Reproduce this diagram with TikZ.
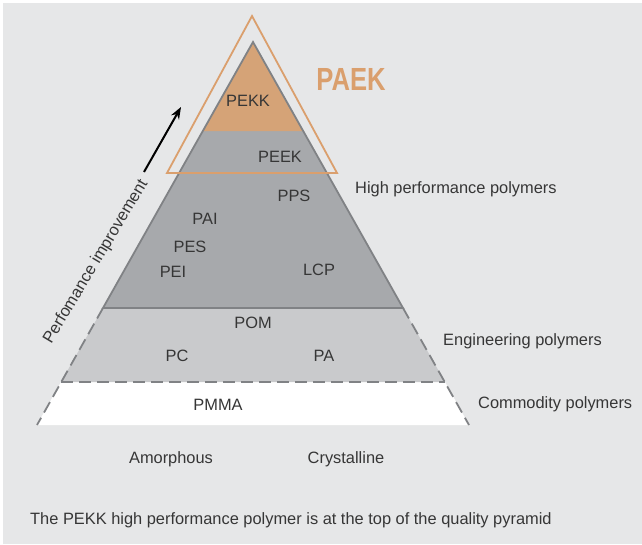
\documentclass[tikz,border=0pt]{standalone}
\usepackage{fontspec}
\setmainfont{Liberation Sans}
\usepackage{tikz}
\usetikzlibrary{arrows.meta}
\definecolor{bggray}{HTML}{E6E7E8}
\definecolor{topgray}{HTML}{A7A9AC}
\definecolor{midgray}{HTML}{C9CACC}
\definecolor{edgegray}{HTML}{808285}
\definecolor{peach}{HTML}{D5A377}
\definecolor{paekline}{HTML}{DA9F6D}
\definecolor{txtgray}{HTML}{363636}
\tikzset{
  lbl/.style={text=txtgray,font=\fontsize{16.4}{19}\selectfont,inner sep=0pt},
  side/.style={lbl,anchor=west},
  edge/.style={draw=edgegray,line width=1.8pt},
  dashedge/.style={edge,dash pattern=on 12pt off 6pt}
}
\begin{document}
\begin{tikzpicture}[x=1pt,y=-1pt]
    \useasboundingbox (0,0) rectangle (642,544);
    \fill[bggray] (3,3) rectangle (642,544);
    \coordinate (apex) at (253,42);
    \coordinate (pl) at (203,131);   \coordinate (pr) at (303,131);
    \coordinate (hl) at (103,308);   \coordinate (hr) at (403,308);
    \coordinate (el) at (61,382);    \coordinate (er) at (445,382);
    \coordinate (cl) at (37,425);    \coordinate (cr) at (469,425);
    \fill[white]   (el) -- (er) -- (cr) -- (cl) -- cycle;
    \fill[midgray] (hl) -- (hr) -- (er) -- (el) -- cycle;
    \fill[topgray] (apex) -- (hr) -- (hl) -- cycle;
    \fill[peach]   (apex) -- (pr) -- (pl) -- cycle;
    \draw[edge]     (hl) -- (apex) -- (hr) -- cycle;
    \draw[dashedge] (hl) -- (cl);
    \draw[dashedge] (hr) -- (cr);
    \draw[dashedge] (el) -- (er);
    \draw[paekline,line width=1.8pt] (252,16) -- (337,173) -- (167,173) -- cycle;
    \node[text=paekline,font=\bfseries\fontsize{32}{32}\selectfont,inner sep=0pt] (paek) at (351,79) {\scalebox{0.8}[1]{PAEK}};
    \node[lbl] (pekk) at (248,101) {PEKK};
    \node[lbl] (peek) at (280,157) {PEEK};
    \node[lbl] (pps)  at (294,196) {PPS};
    \node[lbl] (pai)  at (205,219) {PAI};
    \node[lbl] (pes)  at (190,247) {PES};
    \node[lbl] (pei)  at (173,272) {PEI};
    \node[lbl] (lcp)  at (319,270) {LCP};
    \node[lbl] (pom)  at (253,323) {POM};
    \node[lbl] (pc)   at (177,356) {PC};
    \node[lbl] (pa)   at (324,356) {PA};
    \node[lbl] (pmma) at (218,405) {PMMA};
    \node[lbl] (amorph) at (171,459) {Amorphous};
    \node[lbl] (cryst)  at (346,459) {Crystalline};
    \node[side] (hpp) at (355,189) {High performance polymers};
    \node[side] (engp) at (443,341) {Engineering polymers};
    \node[side] (comp) at (478,404) {Commodity polymers};
    \node[lbl,rotate=59] (perf) at (96,262) {Perfomance improvement};
    \coordinate (arrtail) at (144,172);
    \coordinate (arrtip) at (181,107);
    \draw[black,line width=2pt,-{Stealth[length=12pt,width=9pt]}] (arrtail) -- (arrtip);
    \node[lbl,anchor=west] (caption) at (30,520) {The PEKK high performance polymer is at the top of the quality pyramid};
\end{tikzpicture}
\end{document}
